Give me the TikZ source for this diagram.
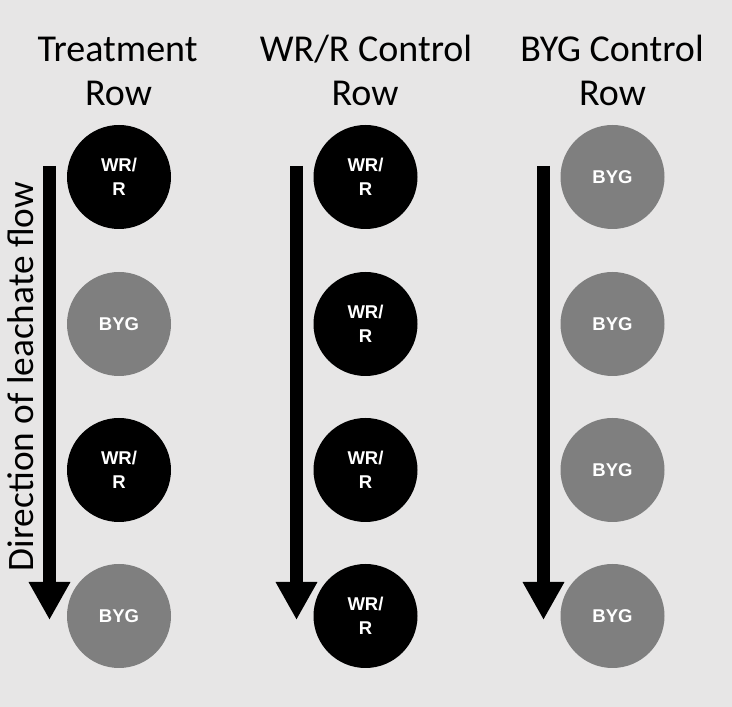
\documentclass[tikz,border=0pt]{standalone}
\usepackage{fontspec}
\setmainfont{Carlito}
\newfontfamily\arialfont{Liberation Sans}
\usetikzlibrary{arrows.meta}
\definecolor{bggrey}{HTML}{E7E6E6}
\definecolor{plantgrey}{HTML}{7F7F7F}
\tikzset{
  plant/.style={circle,minimum size=104pt,inner sep=0pt,draw=none,text=white,align=center,
    font=\arialfont\bfseries\fontsize{18.5}{24}\selectfont},
  wrr/.style={plant,fill=black},
  byg/.style={plant,fill=plantgrey},
  header/.style={anchor=base,inner sep=0pt,font=\fontsize{38}{44}\selectfont},
  flowarrow/.style={line width=13pt,-{Triangle[width=39pt,length=38pt]}},
}
\begin{document}
\begin{tikzpicture}[x=1pt,y=1pt]
\fill[bggrey] (0,0) rectangle (732,707);
\useasboundingbox (0,0) rectangle (732,707);
% headers
\node[header] (h1a) at (117.5,645) {Treatment};
\node[header] (h1b) at (118.5,601) {Row};
\node[header] (h2a) at (366,645) {WR/R Control};
\node[header] (h2b) at (365,601) {Row};
\node[header] (h3a) at (612,645) {BYG Control};
\node[header] (h3b) at (612.5,601) {Row};
% flow label
\node[anchor=base,rotate=90,inner sep=0pt,font=\fontsize{37.3}{44}\selectfont] (flow) at (33,330.5) {Direction of leachate flow};
% arrows
\foreach \i/\x in {1/49.5,2/296.5,3/543.5}{
  \coordinate (s\i) at (\x,541);
  \coordinate (e\i) at (\x,87);
  \draw[flowarrow] (s\i) -- (e\i);
}
% treatment row
\node[wrr] (t1) at (119,530) {WR/\\R};
\node[byg] (t2) at (119,383) {BYG};
\node[wrr] (t3) at (119,237) {WR/\\R};
\node[byg] (t4) at (119,91) {BYG};
% WR/R control row
\node[wrr] (w1) at (365.5,530) {WR/\\R};
\node[wrr] (w2) at (365.5,383) {WR/\\R};
\node[wrr] (w3) at (365.5,237) {WR/\\R};
\node[wrr] (w4) at (365.5,91) {WR/\\R};
% BYG control row
\node[byg] (b1) at (612.5,530) {BYG};
\node[byg] (b2) at (612.5,383) {BYG};
\node[byg] (b3) at (612.5,237) {BYG};
\node[byg] (b4) at (612.5,91) {BYG};
\end{tikzpicture}
\end{document}
